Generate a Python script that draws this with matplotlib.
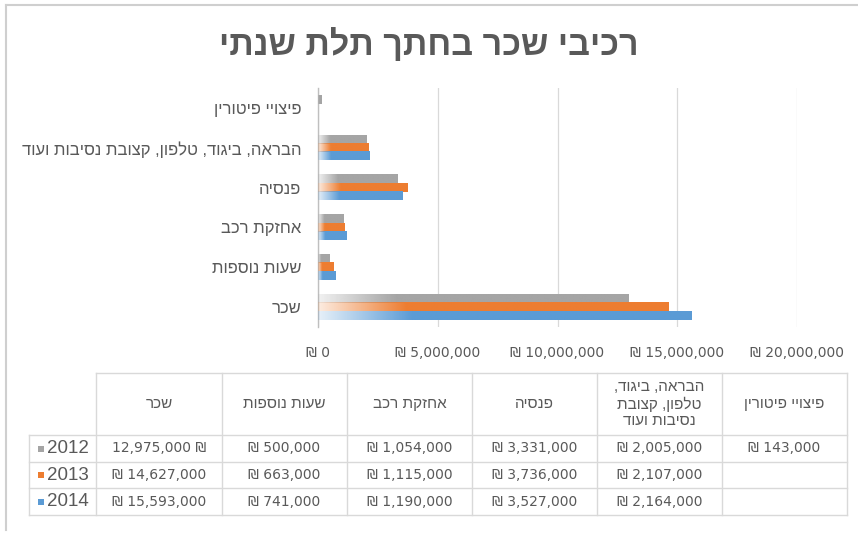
import numpy as np
import matplotlib
matplotlib.use("Agg")
import matplotlib.pyplot as plt
from matplotlib.colors import to_rgb

plt.rcParams['font.family'] = ['Liberation Sans', 'DejaVu Sans']
NUM_FONT = ['DejaVu Sans']

# ---- data ----
title = "רכיבי שכר בחתך תלת שנתי"
categories = ["שכר", "שעות נוספות", "אחזקת רכב", "פנסיה",
              "הבראה, ביגוד, טלפון, קצובת נסיבות ועוד", "פיצויי פיטורין"]
table_headers = ["שכר", "שעות נוספות", "אחזקת רכב", "פנסיה",
                 "הבראה, ביגוד,\nטלפון, קצובת\nנסיבות ועוד", "פיצויי פיטורין"]
years = ["2012", "2013", "2014"]
values_2012 = [12975000, 500000, 1054000, 3331000, 2005000, 143000]
values_2013 = [14627000, 663000, 1115000, 3736000, 2107000, None]
values_2014 = [15593000, 741000, 1190000, 3527000, 2164000, None]
xticks = [0, 5000000, 10000000, 15000000, 20000000]

series = [values_2012, values_2013, values_2014]
colors = ["#A5A5A5", "#ED7D31", "#5B9BD5"]
text_color = "#595959"
line_color = "#D9D9D9"

W, H = 858, 535


def rtl(s):
    # matplotlib has no bidi support, so hebrew is laid out reversed
    return "\n".join(line[::-1] for line in s.split("\n"))


def shekel(v, trailing=False):
    if v is None:
        return ""
    return f"{v:,} ₪" if trailing else f"₪ {v:,}"


def gradient_fill(ax, patch, color):
    w = patch.get_width()
    if not np.isfinite(w) or w <= 0:
        return
    x0, y0, h = patch.get_x(), patch.get_y(), patch.get_height()
    n = 256
    t = np.linspace(0, 1, n)
    rgba = np.zeros((1, n, 4))
    rgba[..., :3] = to_rgb(color)
    rgba[..., 3] = np.clip(0.15 + 0.85 * t / 0.25, 0, 1)
    ax.imshow(rgba, extent=[x0, x0 + w, y0, y0 + h], aspect='auto',
              interpolation='bilinear', zorder=3)


fig = plt.figure(figsize=(W / 100, H / 100), dpi=100)

# overlay in pixel coordinates for title, frame and data table
ov = fig.add_axes([0, 0, 1, 1], zorder=0)
ov.set_xlim(0, W)
ov.set_ylim(H, 0)
ov.axis('off')

# ---- bar chart ----
left, right, top, bottom = 318, 797, 88, 327
ax = fig.add_axes([left / W, 1 - bottom / H, (right - left) / W, (bottom - top) / H], zorder=1)
ax.patch.set_alpha(0)

y = np.arange(len(categories))
bar_h = 0.21
offsets = [bar_h, 0, -bar_h]
for vals, col, off in zip(series, colors, offsets):
    v = np.array([np.nan if x is None else x for x in vals], dtype=float)
    bars = ax.barh(y + off, v, height=bar_h, color='none', linewidth=0)
    for p in bars.patches:
        gradient_fill(ax, p, col)

ax.set_xlim(0, xticks[-1])
ax.set_ylim(-0.5, len(categories) - 0.5)
ax.set_xticks(xticks)
ax.set_xticklabels([shekel(v) for v in xticks], fontsize=10, color=text_color,
                   family=NUM_FONT)
ax.set_yticks(y)
ax.set_yticklabels([rtl(c) for c in categories], fontsize=12, color=text_color)
ax.tick_params(length=0)
ax.tick_params(axis='x', pad=14)
ax.tick_params(axis='y', pad=12)
ax.grid(axis='x', color=line_color, linewidth=0.9, zorder=0)
ax.set_axisbelow(True)
for s in ['top', 'right', 'bottom']:
    ax.spines[s].set_visible(False)
ax.spines['left'].set_color("#BFBFBF")
ax.spines['left'].set_linewidth(1.0)

# ---- title and chart frame ----
ov.text(429, 45, rtl(title), ha='center', va='center', fontsize=24.5,
        fontweight='bold', color=text_color)
ov.plot([6, W], [5, 5], color="#CFCFCF", lw=1.5)
ov.plot([6, 6], [5, 530], color="#CFCFCF", lw=1.5)

# ---- data table ----
col_x = [96, 222, 347, 472, 597, 722, 847]
row_y = [373, 435, 462, 488, 515]
leg_x = 29

ov.plot([col_x[0], col_x[-1]], [row_y[0], row_y[0]], color=line_color, lw=1)
for ry in row_y[1:]:
    ov.plot([leg_x, col_x[-1]], [ry, ry], color=line_color, lw=1)
for cx in col_x:
    ov.plot([cx, cx], [row_y[0], row_y[-1]], color=line_color, lw=1)
ov.plot([leg_x, leg_x], [row_y[1], row_y[-1]], color=line_color, lw=1)

header_y = (row_y[0] + row_y[1]) / 2
for i, hdr in enumerate(table_headers):
    cx = (col_x[i] + col_x[i + 1]) / 2
    ov.text(cx, header_y, rtl(hdr), ha='center', va='center', fontsize=11,
            color=text_color, linespacing=1.2)

for r, (yr, vals, col) in enumerate(zip(years, series, colors)):
    cy = (row_y[r + 1] + row_y[r + 2]) / 2
    ov.add_patch(plt.Rectangle((38, cy - 3), 6, 6, color=col, lw=0))
    ov.text(89, cy, yr, ha='right', va='center', fontsize=13.5, color=text_color)
    for i, v in enumerate(vals):
        cx = (col_x[i] + col_x[i + 1]) / 2
        # the 2012 salary cell shows its sign after the number
        ov.text(cx, cy, shekel(v, trailing=(r == 0 and i == 0)), ha='center',
                va='center', fontsize=10, color=text_color, family=NUM_FONT)

fig.savefig("out.png", dpi=100)
